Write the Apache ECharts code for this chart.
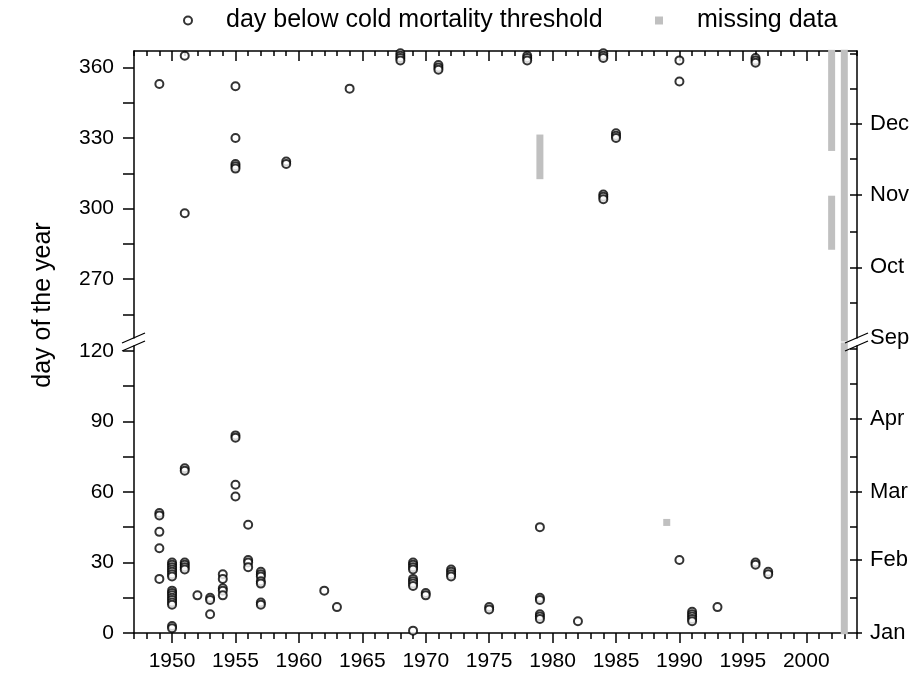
<!DOCTYPE html>
<html><head><meta charset="utf-8">
<script src="https://cdn.jsdelivr.net/npm/echarts@6/dist/echarts.min.js"></script>
<style>html,body{margin:0;padding:0;background:#fff}#c{width:913px;height:675px}</style>
</head><body><div id="c"></div>
<script>
// ---- data ----
const coldYears = [1949,1950,1951,1952,1953,1954,1955,1956,1957,1959,1962,1963,1964,1968,1969,1970,1971,1972,1975,1978,1979,1982,1984,1985,1990,1991,1993,1996,1997];
const coldDays = [
  [353,51,50,43,36,23],
  [30,29,28,27,26,25,24,18,17,16,15,14,13,12,3,2],
  [365,298,70,69,30,29,28,27],
  [16],
  [15,14,8],
  [25,23,19,18,16],
  [352,330,319,318,317,84,83,63,58],
  [46,31,30,28],
  [26,25,24,22,21,13,12],
  [320,319],
  [18],
  [11],
  [351],
  [366,365,364,363],
  [30,29,28,27,23,22,21,20,1],
  [17,16],
  [361,360,359],
  [27,26,25,24],
  [11,10],
  [365,364,363],
  [45,15,14,8,7,6],
  [5],
  [366,365,364,306,305,304],
  [332,331,330],
  [363,354,31],
  [9,8,7,6,5],
  [11],
  [364,363,362,30,29],
  [26,25]
];
const missingYears = [1979, 1989, 2002, 2002, 2003];
const missingStart = [314, 47, 326, 284, 1];
const missingEnd   = [330, 47, 366, 304, 366];
const yearLabels = [1950,1955,1960,1965,1970,1975,1980,1985,1990,1995,2000];
const lowerDayLabels = [0,30,60,90,120];
const upperDayLabels = [270,300,330,360];
const lowerDayTicks = [0,15,30,45,60,75,90,105,120];
const upperDayTicks = [255,270,285,300,315,330,345,360];
const monthNames = ['Jan','Feb','Mar','Apr','Sep','Oct','Nov','Dec'];
const monthStartDays = [0,31,60,91,245,275,306,336];
const lowerHalfMonthTicks = [15,31,45,60,75,91,106,121];
const upperHalfMonthTicks = [260,275,290,306,321,336,351,366];
const LOWER = [0,122], UPPER = [245,367], YEARS = [1947,2004];

// ---- build ----
const FONT = '"Liberation Sans", Arial, sans-serif';
const lowerPts = [], upperPts = [];
coldYears.forEach((y,i)=>coldDays[i].forEach(d=>{ (d>=UPPER[0]?upperPts:lowerPts).push([y,d]); }));
const lowerMiss = [], upperMiss = [];
missingYears.forEach((y,i)=>{
  const s = missingStart[i], e = missingEnd[i];
  if (s <= LOWER[1]) lowerMiss.push([y, s, Math.min(e, LOWER[1])]);
  if (e >= UPPER[0]) upperMiss.push([y, Math.max(s, UPPER[0]), e]);
});
const allYears = []; for (let y=YEARS[0]; y<=YEARS[1]; y++) allYears.push(y);

const line = {lineStyle:{color:'#000', width:1.5}};
const noLabel = {show:false};
function xAx(grid, pos, ticks, len, inside, showLine, labels){
  return {type:'value', gridIndex:grid, position:pos, min:YEARS[0], max:YEARS[1],
    axisLine:{show:showLine, onZero:false, ...line},
    axisTick:{show:true, inside:inside, length:len, customValues:ticks, lineStyle:{color:'#000', width:1.5}},
    axisLabel: labels ? {show:true, customValues:labels, margin:18, color:'#000', fontFamily:FONT, fontSize:21, formatter:v=>String(v)} : noLabel,
    splitLine:{show:false}};
}
function yAx(grid, pos, range, ticks, len, inside, showLine, labels, fmt, fs, margin){
  return {type:'value', gridIndex:grid, position:pos, min:range[0], max:range[1],
    axisLine:{show:showLine, onZero:false, ...line},
    axisTick:{show:ticks.length>0, inside:inside, length:len, customValues:ticks, lineStyle:{color:'#000', width:1.5}},
    axisLabel: labels ? {show:true, customValues:labels, margin:margin, color:'#000', fontFamily:FONT, fontSize:fs, formatter:fmt || (v=>String(v))} : noLabel,
    splitLine:{show:false}};
}
const monthFmt = v => monthNames[monthStartDays.indexOf(v)];
function renderMissing(params, api){
  const x = api.value(0);
  const a = api.coord([x, api.value(2)]);
  const b = api.coord([x, api.value(1)]);
  const h = 3.5;
  return {type:'rect', shape:{x:a[0]-h, y:a[1]-h, width:2*h, height:b[1]-a[1]+2*h}, style:{fill:'#c0c0c0'}};
}
const scatterStyle = {symbol:'emptyCircle', symbolSize:8, itemStyle:{color:'#000', borderWidth:1}};
const NAME1 = 'day below cold mortality threshold', NAME2 = 'missing data';
const legendBase = {top:3, itemWidth:66, itemHeight:8, textStyle:{fontFamily:FONT, fontSize:25, color:'#000'}};

const chart = echarts.init(document.getElementById('c'), null, {renderer:'canvas'});
chart.setOption({
  animation:false,
  backgroundColor:'#fff',
  grid:[{left:134, right:56, top:51, height:287}, {left:134, right:56, top:346, height:287}],
  legend:[
    {...legendBase, left:178, data:[{name:NAME1, icon:'emptyCircle'}]},
    {...legendBase, left:650, data:[{name:NAME2, icon:'path://M0,0L1,0L1,1L0,1Z'}]}
  ],
  xAxis:[
    xAx(0,'top',allYears,5,true,true,null),
    xAx(0,'top',yearLabels,10,true,false,null),
    xAx(1,'bottom',allYears,6,false,true,null),
    xAx(1,'bottom',yearLabels,10,false,false,yearLabels)
  ],
  yAxis:[
    yAx(0,'left',UPPER,upperDayTicks,11,false,true,upperDayLabels,null,21,20),
    yAx(0,'right',UPPER,upperHalfMonthTicks,7,true,true,null),
    yAx(0,'right',UPPER,[275,306,336],5,false,false,[245,275,306,336],monthFmt,22,13),
    yAx(1,'left',LOWER,lowerDayTicks,11,false,true,lowerDayLabels,null,21,20),
    yAx(1,'right',LOWER,lowerHalfMonthTicks,7,true,true,null),
    yAx(1,'right',LOWER,[0,31,60,91],5,false,false,[0,31,60,91],monthFmt,22,13)
  ],
  series:[
    {name:NAME2, type:'custom', xAxisIndex:0, yAxisIndex:0, data:upperMiss, renderItem:renderMissing, itemStyle:{color:'#c0c0c0'}, z:1},
    {name:NAME2, type:'custom', xAxisIndex:2, yAxisIndex:3, data:lowerMiss, renderItem:renderMissing, itemStyle:{color:'#c0c0c0'}, z:1},
    {name:NAME1, type:'scatter', xAxisIndex:0, yAxisIndex:0, data:upperPts, ...scatterStyle, z:3},
    {name:NAME1, type:'scatter', xAxisIndex:2, yAxisIndex:3, data:lowerPts, ...scatterStyle, z:3}
  ]
});
// break marks and y name
const pUpL = chart.convertToPixel({gridIndex:0}, [YEARS[0], UPPER[0]]);
const pLoL = chart.convertToPixel({gridIndex:1}, [YEARS[0], LOWER[1]]);
const pUpR = chart.convertToPixel({gridIndex:0}, [YEARS[1], UPPER[0]]);
const pLoR = chart.convertToPixel({gridIndex:1}, [YEARS[1], LOWER[1]]);
function brk(p){
  return {type:'line', shape:{x1:p[0]-12, y1:p[1]+5, x2:p[0]+11, y2:p[1]-5}, style:{stroke:'#000', lineWidth:1.3}, z:10};
}
chart.setOption({graphic:[
  brk(pUpL), brk(pLoL), brk(pUpR), brk(pLoR),
  {type:'text', x:43, y:305, rotation:Math.PI/2, z:10,
   style:{text:'day of the year', fontFamily:FONT, fontSize:25, fill:'#000', align:'center', verticalAlign:'middle'}}
]});
</script></body></html>
